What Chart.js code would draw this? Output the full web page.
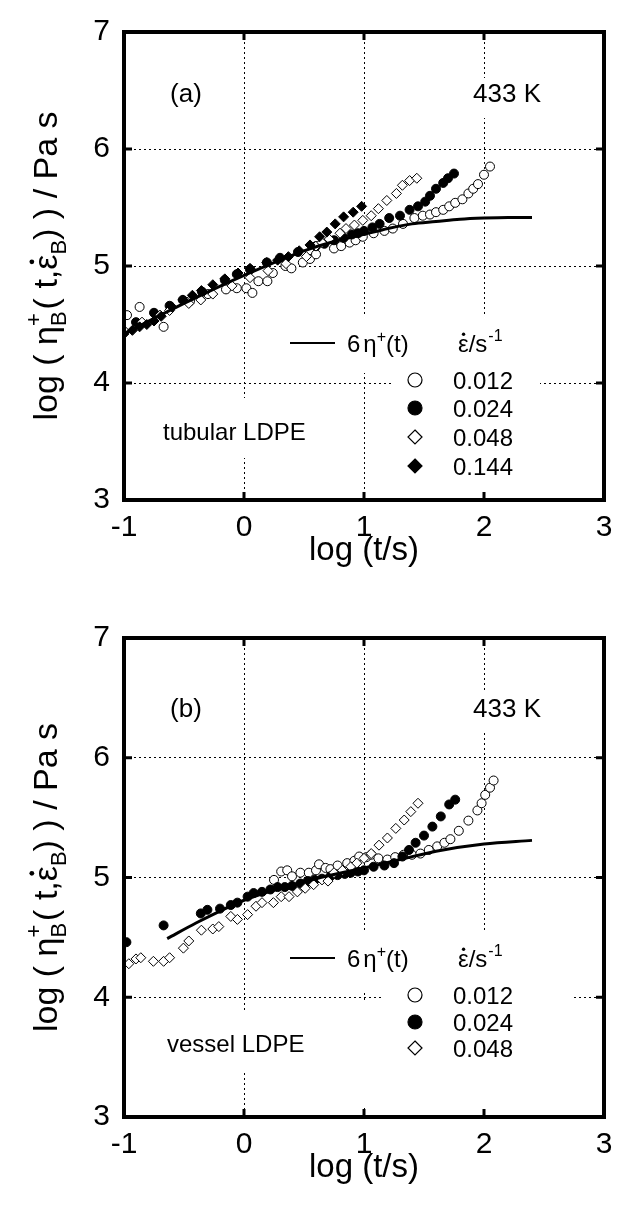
<!DOCTYPE html>
<html>
<head>
<meta charset="utf-8">
<script src="https://cdn.jsdelivr.net/npm/chart.js@4.4.0/dist/chart.umd.min.js"></script>
<style>
  html, body { margin: 0; padding: 0; background: #fff; width: 628px; height: 1212px; overflow: hidden; }
  canvas { position: absolute; left: 0; }
</style>
</head>
<body>
<canvas id="chartA" width="628" height="606" style="top:0px"></canvas>
<canvas id="chartB" width="628" height="606" style="top:606px"></canvas>
<script>
// ---- data: log t (x) and log eta_B+ (y) ----

// (a) tubular LDPE
const tubX012 = [-0.975,-0.87,-0.67,-0.45,-0.3,-0.15,-0.06,0.02,0.07,0.12,0.195,0.24,0.345,0.395,0.49,0.55,0.6,0.75,0.81,0.88,0.93,0.99,1.08,1.17,1.24,1.325,1.42,1.49,1.55,1.6,1.66,1.71,1.76,1.82,1.87,1.91,1.95,2.0,2.05];
const tubY012 = [4.58,4.65,4.48,4.70,4.76,4.80,4.81,4.81,4.77,4.87,4.87,4.94,5.0,4.98,5.03,5.06,5.10,5.15,5.17,5.20,5.22,5.25,5.28,5.30,5.32,5.36,5.41,5.43,5.44,5.46,5.48,5.51,5.54,5.57,5.62,5.66,5.70,5.78,5.85];

const tubX024 = [-0.9,-0.75,-0.62,-0.51,-0.35,-0.16,-0.06,0.05,0.19,0.3,0.45,0.6,0.67,0.75,0.83,0.9,0.95,1.0,1.07,1.13,1.21,1.30,1.38,1.45,1.51,1.55,1.60,1.66,1.70,1.75];
const tubY024 = [4.52,4.60,4.66,4.71,4.78,4.88,4.93,4.97,5.03,5.07,5.12,5.17,5.19,5.22,5.24,5.27,5.28,5.30,5.33,5.36,5.41,5.43,5.48,5.51,5.55,5.60,5.66,5.71,5.75,5.79];

const tubX048 = [-1,-0.85,-0.7,-0.62,-0.46,-0.36,-0.26,-0.1,0.05,0.2,0.35,0.52,0.6,0.65,0.71,0.80,0.85,0.92,0.99,1.06,1.12,1.19,1.27,1.32,1.38,1.44];
const tubY048 = [4.45,4.52,4.58,4.62,4.68,4.71,4.76,4.83,4.90,4.96,5.02,5.08,5.17,5.20,5.23,5.28,5.32,5.35,5.39,5.43,5.49,5.56,5.62,5.69,5.73,5.75];

const tubX144 = [-1,-0.93,-0.87,-0.81,-0.75,-0.69,-0.6,-0.51,-0.43,-0.355,-0.26,-0.16,-0.05,0.05,0.19,0.28,0.37,0.46,0.55,0.63,0.69,0.76,0.83,0.91,0.98];
const tubY144 = [4.42,4.45,4.48,4.50,4.53,4.57,4.65,4.71,4.75,4.79,4.84,4.89,4.94,4.98,5.03,5.05,5.08,5.13,5.18,5.25,5.29,5.36,5.42,5.46,5.51];

const tubLineX = [-1,-0.5,0,0.5,0.75,1.0,1.2,1.4,1.6,1.8,2.0,2.2,2.4];
const tubLineY = [4.42,4.68,4.92,5.13,5.21,5.27,5.32,5.36,5.38,5.40,5.41,5.415,5.415];

// (b) vessel LDPE
const vesX012 = [0.25,0.31,0.36,0.40,0.47,0.54,0.60,0.625,0.68,0.72,0.78,0.86,0.92,0.96,1.02,1.06,1.12,1.195,1.26,1.33,1.40,1.47,1.54,1.61,1.67,1.72,1.79,1.87,1.945,1.98,2.01,2.05,2.08];
const vesY012 = [4.98,5.05,5.06,5.01,5.04,5.04,5.06,5.11,5.08,5.07,5.10,5.12,5.14,5.175,5.17,5.19,5.16,5.15,5.17,5.19,5.19,5.20,5.23,5.26,5.29,5.32,5.39,5.475,5.56,5.62,5.69,5.75,5.81];

const vesX024 = [-0.98,-0.67,-0.36,-0.305,-0.2,-0.11,-0.055,0.03,0.08,0.15,0.22,0.28,0.34,0.40,0.47,0.53,0.59,0.65,0.72,0.78,0.84,0.89,0.95,1.0,1.08,1.17,1.25,1.32,1.375,1.43,1.5,1.57,1.64,1.71,1.76];
const vesY024 = [4.46,4.60,4.70,4.73,4.74,4.77,4.79,4.84,4.87,4.88,4.90,4.92,4.92,4.93,4.95,4.97,4.98,4.99,5.01,5.02,5.03,5.04,5.05,5.06,5.09,5.10,5.12,5.175,5.23,5.29,5.35,5.425,5.51,5.61,5.65];

const vesX048 = [-0.96,-0.9,-0.86,-0.755,-0.67,-0.62,-0.505,-0.46,-0.355,-0.26,-0.21,-0.11,-0.055,0.03,0.10,0.15,0.245,0.31,0.375,0.445,0.51,0.58,0.65,0.70,0.75,0.82,0.89,0.94,1.0,1.06,1.125,1.195,1.265,1.335,1.39,1.45];
const vesY048 = [4.28,4.32,4.33,4.30,4.30,4.33,4.41,4.47,4.56,4.57,4.59,4.675,4.65,4.69,4.76,4.79,4.79,4.84,4.84,4.88,4.91,4.94,4.98,4.97,5.04,5.06,5.09,5.12,5.16,5.20,5.27,5.33,5.41,5.48,5.55,5.62];

const vesLineX = [-0.64,-0.4,-0.2,0,0.3,0.6,1.0,1.3,1.6,2.0,2.4];
const vesLineY = [4.49,4.62,4.72,4.81,4.91,4.99,5.08,5.15,5.22,5.28,5.31];

// rates for the legends
const ratesA = ['0.012', '0.024', '0.048', '0.144'];
const ratesB = ['0.012', '0.024', '0.048'];

const FONT = "'Liberation Sans', Arial, Helvetica, sans-serif";

function pts(xs, ys) {
  return xs.map((x, i) => ({ x: x, y: ys[i] }));
}

// marker styles, same for both panels
const STYLES = {
  '0.012': { pointStyle: 'circle', radius: 4.5, fill: '#fff' },
  '0.024': { pointStyle: 'circle', radius: 4.5, fill: '#000' },
  '0.048': { pointStyle: 'rectRot', radius: 5, fill: '#fff' },
  '0.144': { pointStyle: 'rectRot', radius: 5, fill: '#000' }
};

function pointSet(label, xs, ys) {
  const s = STYLES[label];
  return {
    label: label,
    data: pts(xs, ys),
    pointStyle: s.pointStyle,
    pointRadius: s.radius,
    pointBackgroundColor: s.fill,
    pointBorderColor: '#000',
    pointBorderWidth: 1,
    showLine: false
  };
}

function lineSet(xs, ys) {
  return {
    label: '6 eta+(t)',
    data: pts(xs, ys),
    showLine: true,
    borderColor: '#000',
    borderWidth: 3,
    pointRadius: 0,
    cubicInterpolationMode: 'monotone',
    fill: false
  };
}

// small marker for the hand-placed legend
function marker(ctx, label, x, y) {
  const s = STYLES[label];
  const r = 7;
  ctx.beginPath();
  if (s.pointStyle === 'circle') {
    ctx.arc(x, y, r, 0, Math.PI * 2);
  } else {
    ctx.moveTo(x, y - r); ctx.lineTo(x + r, y); ctx.lineTo(x, y + r); ctx.lineTo(x - r, y); ctx.closePath();
  }
  ctx.fillStyle = s.fill;
  ctx.fill();
  ctx.lineWidth = 1.2;
  ctx.strokeStyle = '#000';
  ctx.stroke();
}

// the dot over epsilon (strain rate)
function epsDot(ctx, x, y, w, font) {
  ctx.beginPath();
  ctx.arc(x + w * 0.52, y - font * 0.74, Math.max(1.7, font * 0.07), 0, Math.PI * 2);
  ctx.fill();
}

// rotated y title: log ( eta_B^+( t, epsdot_B) ) / Pa s
function yTitle(ctx, cx, cy) {
  const F = 34, S = 22;
  const big = F + 'px ' + FONT, small = S + 'px ' + FONT;
  const parts = [
    { t: 'log ( \u03b7', f: big },
    { t: 'B', f: small, dy: 9, sup: '+' },
    { t: '( t,', f: big },
    { t: '\u03b5', f: big, dot: true },
    { t: 'B', f: small, dy: 9 },
    { t: ') ) / Pa s', f: big }
  ];
  ctx.save();
  let total = 0;
  parts.forEach(p => { ctx.font = p.f; p.w = ctx.measureText(p.t).width + (p.sup ? 2 : 0); total += p.w; });
  ctx.translate(cx, cy);
  ctx.rotate(-Math.PI / 2);
  ctx.fillStyle = '#000';
  ctx.textBaseline = 'alphabetic';
  ctx.textAlign = 'left';
  let x = -total / 2;
  parts.forEach(p => {
    ctx.font = p.f;
    ctx.fillText(p.t, x, p.dy || 0);
    if (p.sup) ctx.fillText(p.sup, x, -16);
    if (p.dot) epsDot(ctx, x, 0, p.w, F);
    x += p.w;
  });
  ctx.restore();
}

function panelPlugin(p) {
  return {
    id: 'panel' + p.tag,
    beforeDatasetsDraw(chart) {
      // white patches behind the labels hide the grid there
      const ctx = chart.ctx;
      ctx.save();
      ctx.fillStyle = '#fff';
      p.boxes.forEach(b => ctx.fillRect(b[0], b[1], b[2] - b[0], b[3] - b[1]));
      ctx.restore();
    },
    afterDatasetsDraw(chart) {
      const ctx = chart.ctx, a = chart.chartArea;
      const xs = chart.scales.x, ys = chart.scales.y;
      ctx.save();
      ctx.strokeStyle = '#000';
      ctx.lineWidth = 3;
      [0, 1, 2].forEach(v => {
        const px = xs.getPixelForValue(v);
        ctx.beginPath();
        ctx.moveTo(px, a.bottom); ctx.lineTo(px, a.bottom - 8);
        ctx.moveTo(px, a.top); ctx.lineTo(px, a.top + 8);
        ctx.stroke();
      });
      [4, 5, 6].forEach(v => {
        const py = ys.getPixelForValue(v);
        ctx.beginPath();
        ctx.moveTo(a.left, py); ctx.lineTo(a.left + 8, py);
        ctx.moveTo(a.right, py); ctx.lineTo(a.right - 8, py);
        ctx.stroke();
      });
      ctx.lineWidth = 4;
      ctx.strokeRect(a.left, a.top, a.right - a.left, a.bottom - a.top);
      ctx.restore();
    },
    afterDraw(chart) {
      const ctx = chart.ctx, a = chart.chartArea;
      ctx.save();
      ctx.fillStyle = '#000';
      ctx.strokeStyle = '#000';
      ctx.font = '26px ' + FONT;
      ctx.textBaseline = 'middle';
      ctx.textAlign = 'center';
      ctx.fillText(p.panel, 186, p.headY);
      ctx.fillText('433 K', 507, p.headY);

      ctx.font = '24px ' + FONT;
      ctx.textAlign = 'left';
      ctx.fillText(p.sample, p.sampleX, p.sampleY);

      // legend: line entry
      ctx.lineWidth = 2;
      ctx.beginPath();
      ctx.moveTo(290, p.legY); ctx.lineTo(335, p.legY);
      ctx.stroke();
      ctx.textBaseline = 'alphabetic';
      const base = p.legY + 9;
      let x = 347;
      ctx.font = '24px ' + FONT;
      ctx.fillText('6', x, base); x += ctx.measureText('6').width + 3;
      ctx.fillText('\u03b7', x, base); x += ctx.measureText('\u03b7').width;
      ctx.font = '16px ' + FONT;
      ctx.fillText('+', x, base - 10); x += ctx.measureText('+').width;
      ctx.font = '24px ' + FONT;
      ctx.fillText('(t)', x, base);

      // legend header: epsdot / s^-1
      x = 458;
      const ew = ctx.measureText('\u03b5').width;
      ctx.fillText('\u03b5', x, base);
      epsDot(ctx, x, base, ew, 24);
      x += ew;
      ctx.fillText('/s', x, base); x += ctx.measureText('/s').width;
      ctx.font = '16px ' + FONT;
      ctx.fillText('-1', x + 1, base - 11);

      // legend rows
      ctx.font = '24px ' + FONT;
      p.rates.forEach((r, i) => {
        const y = p.rowY[i];
        marker(ctx, r, 415, y);
        ctx.fillStyle = '#000';
        ctx.fillText(r, 453, y + 9);
      });

      // axis titles
      ctx.font = '33px ' + FONT;
      ctx.textAlign = 'center';
      ctx.fillText('log (t/s)', (a.left + a.right) / 2, a.bottom + p.xTitleOff);
      yTitle(ctx, 57, (a.top + a.bottom) / 2);
      ctx.restore();
    }
  };
}

function makePanel(id, datasets, p) {
  return new Chart(document.getElementById(id), {
    type: 'scatter',
    data: { datasets: datasets },
    options: {
      responsive: false,
      animation: false,
      layout: { padding: { left: 0, right: 24, top: p.top, bottom: 0 } },
      plugins: { legend: { display: false }, tooltip: { enabled: false } },
      scales: {
        x: {
          type: 'linear', min: -1, max: 3,
          afterFit: s => { s.height = p.xHeight; },
          ticks: { stepSize: 1, color: '#000', padding: 10, font: { size: 30, family: FONT } },
          grid: { color: '#000', lineWidth: 1, drawTicks: false },
          border: { display: false, dash: [2, 3] }
        },
        y: {
          type: 'linear', min: 3, max: 7,
          afterFit: s => { s.width = 124; },
          ticks: { stepSize: 1, color: '#000', padding: 14, font: { size: 30, family: FONT } },
          grid: { color: '#000', lineWidth: 1, drawTicks: false },
          border: { display: false, dash: [2, 3] }
        }
      }
    },
    plugins: [panelPlugin(p)]
  });
}

makePanel('chartA', [
  lineSet(tubLineX, tubLineY),
  pointSet('0.144', tubX144, tubY144),
  pointSet('0.048', tubX048, tubY048),
  pointSet('0.024', tubX024, tubY024),
  pointSet('0.012', tubX012, tubY012)
], {
  tag: 'A', panel: '(a)', sample: 'tubular LDPE', rates: ratesA,
  top: 23, xHeight: 106, headY: 95, sampleX: 163, sampleY: 433,
  legY: 343, rowY: [380, 408, 437, 466], xTitleOff: 60,
  boxes: [[466, 78, 548, 118], [285, 315, 540, 373], [393, 373, 540, 495], [158, 398, 318, 458]]
});

makePanel('chartB', [
  lineSet(vesLineX, vesLineY),
  pointSet('0.048', vesX048, vesY048),
  pointSet('0.024', vesX024, vesY024),
  pointSet('0.012', vesX012, vesY012)
], {
  tag: 'B', panel: '(b)', sample: 'vessel LDPE', rates: ratesB,
  top: 30, xHeight: 95, headY: 104, sampleX: 167, sampleY: 439,
  legY: 352, rowY: [389, 416, 442], xTitleOff: 60,
  boxes: [[466, 87, 548, 127], [285, 327, 572, 379], [382, 379, 572, 504], [355, 379, 372, 387], [355, 395, 372, 499], [160, 406, 318, 466]]
});
</script>
</body>
</html>
